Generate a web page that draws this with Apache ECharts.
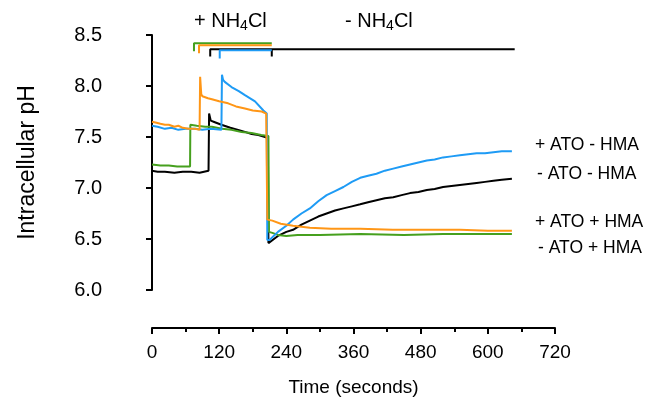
<!DOCTYPE html>
<html>
<head>
<meta charset="utf-8">
<script src="https://cdn.jsdelivr.net/npm/echarts@6/dist/echarts.min.js"></script>
<style>
html,body{margin:0;padding:0;background:#fff;}
#main{width:653px;height:404px;}
</style>
</head>
<body>
<div id="main"></div>
<script>
// [time (s), intracellular pH]
var blueData = [[0,7.61],[10,7.60],[23,7.58],[35,7.59],[47,7.57],[60,7.58],[77,7.58],[90,7.57],[105,7.58],[124,7.57],
	[125,8.11],[127,8.06],[130,8.04],[142,7.99],[155,7.95],[166,7.91],[184,7.85],[199,7.76],[205,7.73],
	[206,6.49],[210,6.49],[225,6.57],[240,6.63],[252,6.69],[267,6.75],[282,6.80],[297,6.87],[312,6.93],[327,6.97],
	[342,7.01],[357,7.06],[372,7.10],[386,7.12],[401,7.14],[416,7.17],[431,7.19],[446,7.21],[461,7.23],[476,7.25],
	[491,7.27],[505,7.28],[520,7.30],[535,7.31],[550,7.32],[565,7.33],[580,7.34],[595,7.34],[610,7.35],[625,7.36],[643,7.36]];
var blackData = [[0,7.17],[10,7.16],[23,7.16],[40,7.15],[55,7.16],[70,7.16],[85,7.15],[101,7.17],
	[102,7.73],[105,7.66],[110,7.65],[124,7.62],[140,7.59],[154,7.57],[166,7.55],[178,7.53],[190,7.52],[202,7.50],[207,7.49],
	[208,6.46],[210,6.46],[225,6.53],[240,6.57],[252,6.59],[267,6.64],[282,6.68],[297,6.72],[312,6.75],[327,6.78],
	[342,6.80],[357,6.82],[372,6.84],[386,6.86],[401,6.88],[416,6.90],[431,6.91],[446,6.93],[461,6.95],[476,6.96],
	[491,6.98],[505,6.99],[520,7.01],[535,7.02],[550,7.03],[565,7.04],[580,7.05],[595,7.06],[610,7.07],[625,7.08],[643,7.09]];
var greenData = [[0,7.23],[15,7.22],[30,7.22],[45,7.21],[60,7.21],[68,7.21],
	[68.5,7.62],[80,7.61],[95,7.60],[107,7.60],[125,7.58],[142,7.57],[160,7.55],[178,7.54],[195,7.52],[208,7.51],
	[209,6.57],[215,6.56],[225,6.54],[240,6.53],[260,6.54],[300,6.54],[372,6.55],[450,6.54],[520,6.55],[600,6.55],[643,6.55]];
var orangeData = [[0,7.65],[8,7.64],[15,7.63],[23,7.62],[30,7.62],[40,7.60],[47,7.61],[55,7.59],[65,7.58],[77,7.58],[85,7.57],
	[86,8.09],[88,7.92],[90,7.90],[100,7.88],[107,7.87],[120,7.85],[136,7.83],[150,7.80],[166,7.78],[180,7.76],[196,7.75],[204,7.73],
	[206,6.69],[215,6.68],[230,6.65],[252,6.63],[282,6.61],[320,6.60],[372,6.60],[430,6.59],[490,6.59],[550,6.59],[600,6.58],[643,6.58]];

// NH4Cl bars: green, orange, black, blue
var barColors = ['#46a01e', '#ff9616', '#000000', '#1e9bf5'];
var barStart = [75, 84, 104, 121];
var barLevel = [8.42, 8.40, 8.36, 8.35];
var barTickEnd = [8.34, 8.32, 8.29, 8.27];
var pulseEnd = 214;
var washEnd = 648;

var traceNames = ['+ ATO - HMA', '- ATO - HMA', '+ ATO + HMA', '- ATO + HMA'];
var xTicks = [0, 720, 120];
var yTicks = [6.0, 8.5, 0.5];

var series = [];
function addLine(data, color, w) {
	series.push({
		type: 'line', data: data, showSymbol: false, animation: false,
		lineStyle: {color: color, width: w}, itemStyle: {color: color}
	});
}
addLine(blackData, '#000000', 2);
addLine(greenData, barColors[0], 2);
addLine(blueData, barColors[3], 2);
addLine(orangeData, barColors[1], 2);

barStart.forEach(function(s, i){
	var pts = [[s, barTickEnd[i]], [s, barLevel[i]], [pulseEnd, barLevel[i]]];
	if (i == 2) {
		pts.push([pulseEnd, barTickEnd[i]]);
		pts.push([pulseEnd, barLevel[i]]);
		pts.push([washEnd, barLevel[i]]);
	}
	addLine(pts, barColors[i], 2);
});

var myChart = echarts.init(document.getElementById('main'));
var font = 'Liberation Sans, Arial, sans-serif';
var option = {
	backgroundColor: '#fff',
	animation: false,
	grid: {left: 152, right: 98, top: 35, bottom: 114, containLabel: false, outerBoundsMode: 'none'},
	xAxis: {
		type: 'value', min: xTicks[0], max: xTicks[1], interval: xTicks[2], offset: 38,
		name: 'Time (seconds)', nameLocation: 'middle', nameGap: 50,
		nameTextStyle: {color: '#000', fontSize: 19, fontFamily: font},
		axisLine: {show: true, lineStyle: {color: '#000', width: 2}},
		axisTick: {show: true, length: 6, lineStyle: {color: '#000', width: 2}},
		minorTick: {show: true, splitNumber: 2, length: 4, lineStyle: {color: '#000', width: 2}},
		axisLabel: {color: '#000', fontSize: 19, fontFamily: font, margin: 15},
		splitLine: {show: false}
	},
	yAxis: {
		type: 'value', min: yTicks[0], max: yTicks[1], interval: yTicks[2], offset: 42,
		name: 'Intracellular pH', nameLocation: 'middle', nameGap: 71,
		nameTextStyle: {color: '#000', fontSize: 23, fontFamily: font},
		axisLine: {show: true, lineStyle: {color: '#000', width: 2}},
		axisTick: {show: true, length: 6, lineStyle: {color: '#000', width: 2}},
		axisLabel: {color: '#000', fontSize: 20, fontFamily: font, margin: 8,
			formatter: function(v){ return v.toFixed(1); }},
		splitLine: {show: false}
	},
	graphic: [
		{type: 'text', left: 194, top: 11, style: {
			text: '{a|+ NH}{s|4}{a|Cl}', fill: '#000',
			rich: {a: {fontSize: 20, fontFamily: font, fill: '#000'}, s: {fontSize: 14, fontFamily: font, fill: '#000', padding: [10, 0, 0, 0]}}}},
		{type: 'text', left: 345, top: 11, style: {
			text: '{a|- NH}{s|4}{a|Cl}', fill: '#000',
			rich: {a: {fontSize: 20, fontFamily: font, fill: '#000'}, s: {fontSize: 14, fontFamily: font, fill: '#000', padding: [10, 0, 0, 0]}}}},
		{type: 'text', left: 535, top: 136, style: {text: traceNames[0], fontSize: 17.5, fontFamily: font, fill: '#000'}},
		{type: 'text', left: 537, top: 165, style: {text: traceNames[1], fontSize: 17.5, fontFamily: font, fill: '#000'}},
		{type: 'text', left: 535, top: 213, style: {text: traceNames[2], fontSize: 17.5, fontFamily: font, fill: '#000'}},
		{type: 'text', left: 538, top: 239, style: {text: traceNames[3], fontSize: 17.5, fontFamily: font, fill: '#000'}}
	],
	series: series
};
myChart.setOption(option);
</script>
</body>
</html>
